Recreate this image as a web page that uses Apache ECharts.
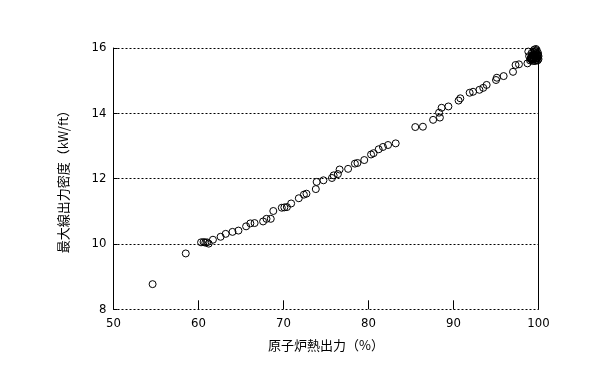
<!DOCTYPE html>
<html><head><meta charset="utf-8">
<script src="https://cdn.jsdelivr.net/npm/echarts@6/dist/echarts.min.js"></script>
<style>html,body{margin:0;padding:0;background:#fff}#c{width:601px;height:365px}</style>
</head><body><div id="c"></div>
<script>
// Reactor thermal power (%)
const powerX = [54.6,58.5,60.3,60.6,60.8,61.0,61.2,61.7,62.6,63.2,64.0,64.7,65.6,66.1,66.6,67.6,68.0,68.5,68.8,69.8,70.1,70.4,70.9,71.8,72.4,72.7,73.8,73.9,74.7,75.7,75.9,76.4,76.6,77.6,78.4,78.7,79.5,80.3,80.6,81.2,81.7,82.3,83.2,85.5,86.4,87.6,88.4,88.3,88.6,89.4,90.6,90.8,91.9,92.3,93.05,93.5,93.9,95.0,95.1,95.9,97.0,97.3,97.7,98.7,98.8,
  99.0,99.2,99.4,99.5,99.6,99.7,99.8,99.3,99.5,99.7,99.9,99.6,99.8,99.1,99.4,99.9,99.2,99.6,99.9,100.0,99.3,98.9,
  99.1,99.3,99.5,99.7,99.9,99.2,99.4,99.6,99.8,100.0,99.05,99.35,99.55,99.75,99.95,99.5,99.7];
// Maximum linear heat generation rate (kW/ft)
const lhgrY = [8.77,9.71,10.05,10.06,10.04,10.05,10.01,10.13,10.22,10.31,10.37,10.41,10.54,10.63,10.64,10.69,10.77,10.77,11.01,11.11,11.12,11.13,11.24,11.40,11.51,11.54,11.68,11.90,11.95,12.02,12.10,12.14,12.28,12.30,12.46,12.48,12.57,12.74,12.78,12.90,12.97,13.03,13.08,13.58,13.59,13.80,13.87,14.02,14.17,14.21,14.39,14.46,14.63,14.66,14.72,14.78,14.87,15.02,15.09,15.14,15.27,15.48,15.50,15.53,15.89,
  15.62,15.65,15.70,15.66,15.72,15.68,15.75,15.78,15.82,15.85,15.80,15.90,15.93,15.70,15.88,15.70,15.85,15.60,15.62,15.75,15.60,15.75,
  15.66,15.68,15.74,15.77,15.76,15.73,15.64,15.79,15.69,15.66,15.67,15.72,15.77,15.63,15.84,15.95,15.97];
const xTicks = [50,60,70,80,90,100];
const yTicks = [8,10,12,14,16];
const xName = '原子炉熱出力（%）';
const yName = '最大線出力密度（kW/ft）';

const pts = powerX.map((x,i)=>[x,lhgrY[i]]);
const lblFont = {color:'#000', fontSize:13, fontFamily:'"Liberation Sans Narrow","DejaVu Sans Condensed",sans-serif'};
const chart = echarts.init(document.getElementById('c'), null, {renderer:'canvas'});
chart.setOption({
  animation:false,
  backgroundColor:'#fff',
  grid:{left:113.5, right:62.5, top:48, bottom:55.7, containLabel:false},
  xAxis:{type:'value', min:xTicks[0], max:xTicks[xTicks.length-1], interval:10,
    name:xName, nameLocation:'middle', nameGap:29,
    nameTextStyle:{color:'#000', fontSize:13, fontFamily:'"Noto Sans CJK JP",sans-serif'},
    axisLine:{show:false},
    axisTick:{show:true, inside:true, length:9, lineStyle:{color:'#000', width:1}},
    axisLabel:Object.assign({margin:8}, lblFont),
    splitLine:{show:false}},
  yAxis:[{type:'value', min:yTicks[0], max:yTicks[yTicks.length-1], interval:2,
    name:yName, nameLocation:'middle', nameGap:44, nameRotate:90,
    nameTextStyle:{color:'#000', fontSize:13, fontFamily:'"Noto Sans CJK JP",sans-serif'},
    axisLine:{show:true, lineStyle:{color:'#000', width:1}},
    axisTick:{show:true, inside:true, length:4, lineStyle:{color:'#000'}},
    axisLabel:Object.assign({margin:7}, lblFont),
    splitLine:{show:true, lineStyle:{color:'#000', type:[2,2], width:1}}},
   {type:'value', position:'right', min:yTicks[0], max:yTicks[yTicks.length-1], interval:2,
    axisLine:{show:true, onZero:false, lineStyle:{color:'#000', width:1}},
    axisTick:{show:false}, axisLabel:{show:false}, splitLine:{show:false}}],
  series:[{type:'scatter', data:pts, symbol:'circle', symbolSize:7, clip:false,
    itemStyle:{color:'rgba(255,255,255,0)', borderColor:'#000', borderWidth:1, opacity:1}}]
});
</script></body></html>
